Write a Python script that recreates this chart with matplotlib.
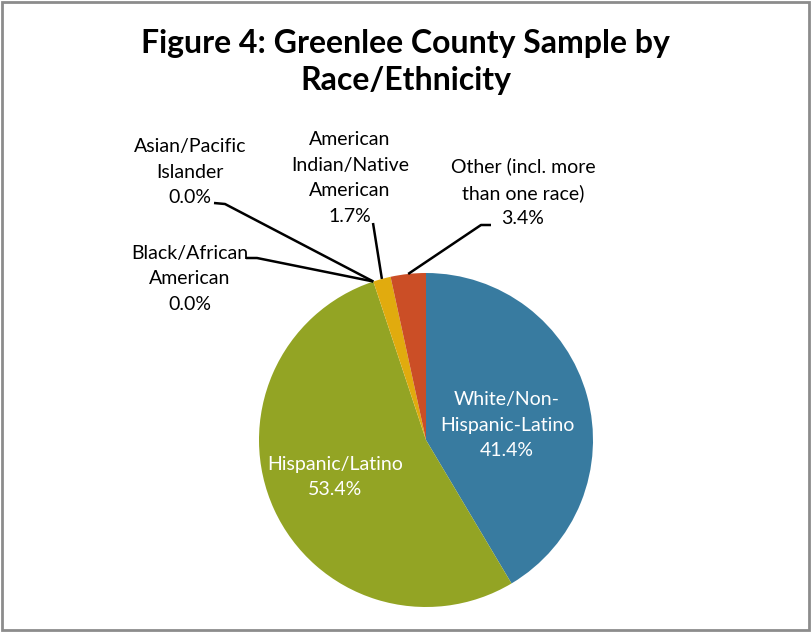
import matplotlib
matplotlib.use('Agg')
import matplotlib.pyplot as plt
import numpy as np
from matplotlib.patches import Rectangle

# Data
categories = ['White/Non-\nHispanic-Latino', 'Hispanic/Latino', 'Black/African\nAmerican',
              'Asian/Pacific\nIslander', 'American\nIndian/Native\nAmerican',
              'Other (incl. more\nthan one race)']
shares = [41.4, 53.4, 0.0, 0.0, 1.7, 3.4]
colors = ['#387BA0', '#93A424', '#4F81BD', '#C0504D', '#E1AB0E', '#CB4E26']

plt.rcParams['font.family'] = ['Lato', 'DejaVu Sans']

W, H = 811, 632
fig = plt.figure(figsize=(W / 100, H / 100), dpi=100)

# pie center / radius in pixels
cx, cy, r = 426, 440, 167
ax = fig.add_axes([(cx - r) / W, (H - cy - r) / H, 2 * r / W, 2 * r / H])
wedges, _ = ax.pie(shares, colors=colors, startangle=90, counterclock=False,
                   radius=1.0, wedgeprops=dict(linewidth=0))
ax.set_xlim(-1, 1)
ax.set_ylim(-1, 1)
ax.set_aspect('equal')
ax.axis('off')


def px(x, y):
    # pixel -> data coords of the pie axes
    return (x - cx) / r, (cy - y) / r


def edge_point(w, rad=1.0):
    ang = np.deg2rad((w.theta1 + w.theta2) / 2)
    return rad * np.cos(ang), rad * np.sin(ang)


fs = 14
ls = 1.6
# inside labels
ax.text(*px(507, 425), f"{categories[0]}\n{shares[0]:.1f}%", ha='center', va='center',
        color='white', fontsize=fs, linespacing=ls)
ax.text(*px(335, 477), f"{categories[1]}\n{shares[1]:.1f}%", ha='center', va='center',
        color='white', fontsize=fs, linespacing=ls)

# outside labels with leader lines: (text center, elbow, text-side end)
outside = {
    2: ((190, 279), (257, 258), (246, 258)),
    3: ((190, 172), (225, 204), (214, 203)),
    4: ((350, 178), (373, 223), (373, 223)),
    5: ((523, 192), (481, 225), (491, 225)),
}
for i, (tpos, elbow, tend) in outside.items():
    ax.text(*px(*tpos), f"{categories[i]}\n{shares[i]:.1f}%", ha='center', va='center',
            color='black', fontsize=fs, linespacing=ls)
    ex, ey = edge_point(wedges[i], 1.0)
    xs = [px(*tend)[0], px(*elbow)[0], ex]
    ys = [px(*tend)[1], px(*elbow)[1], ey]
    ax.plot(xs, ys, color='black', linewidth=1.8, clip_on=False, solid_capstyle='butt')

fig.text(405.5 / W, 1 - 62 / H, "Figure 4: Greenlee County Sample by\nRace/Ethnicity",
         ha='center', va='center', fontsize=23, fontweight='bold', linespacing=1.35)

fig.patches.append(Rectangle((1.5 / W, 2.5 / H), (W - 3.5) / W, (H - 4) / H,
                             transform=fig.transFigure, fill=False,
                             edgecolor='#8C8C8C', linewidth=2))

fig.savefig('out.png', dpi=100)
